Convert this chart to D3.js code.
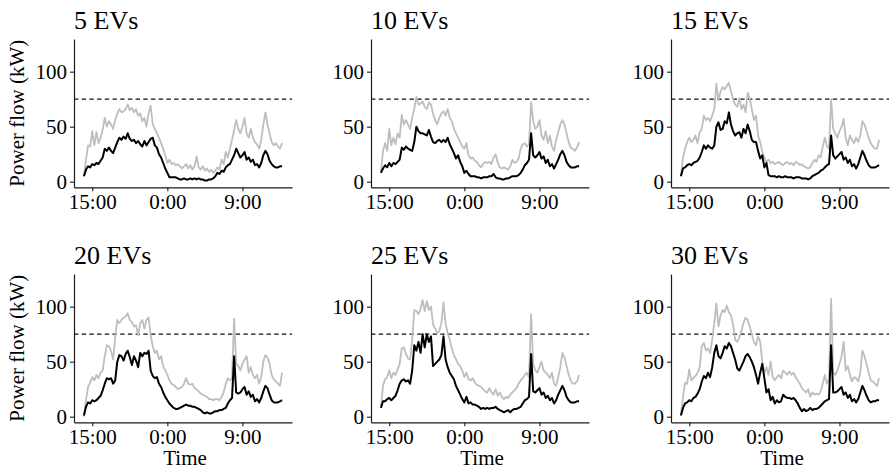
<!DOCTYPE html>
<html>
<head>
<meta charset="utf-8">
<script src="https://cdn.jsdelivr.net/npm/d3@7"></script>
<style>
  body { margin: 0; background: #fff; }
  svg text { font-family: "Liberation Serif", "Times New Roman", serif; fill: #000; }
</style>
</head>
<body>
<svg id="chart" width="890" height="471"></svg>
<script>
// ---- data ----
const panelTitles = ["5 EVs", "10 EVs", "15 EVs", "20 EVs", "25 EVs", "30 EVs"];
// readings every 15 minutes, from 14:00 to 13:45 the next day
const startTime = new Date(2021, 0, 1, 14, 0);
const stepMinutes = 15;
const yTicks = [0, 50, 100];
const xTickTimes = [new Date(2021, 0, 1, 15, 0), new Date(2021, 0, 2, 0, 0), new Date(2021, 0, 2, 9, 0)];
const xTickLabels = ["15:00", "0:00", "9:00"];
const powerLimit = 75;

const grey5 = [5,20,33,32,46,33,45,35,40,47, 58,50,55,52,48,56,62,66,63,64, 66,70,65,67,63,66,60,62,55,58,
  50,62,69,52,48,44,40,35,30,24, 17,20,16,17,15,16,14,12,14,16, 12,15,11,14,23,13,11,14,10,12,
  9,11,8,10,13,11,20,16,27,22, 30,38,47,56,48,44,50,58,44,40, 48,40,36,34,30,38,52,63,52,44, 36,33,35,32,30,35];
const black5 = [5,11,14,13,16,15,17,16,19,22, 30,28,31,28,26,31,36,40,38,41, 39,44,39,37,38,35,37,34,32,37,
  33,36,39,40,33,31,25,22,17,12, 8,4,4,4,4,3,2,2,3,2, 2,3,2,3,2,3,2,2,1,1,
  2,2,3,5,8,7,10,9,13,15, 16,20,24,30,26,22,24,27,20,22, 18,20,15,16,13,17,24,28,25,19, 16,14,13,13,14,14];

const grey10 = [8,28,35,28,48,33,40,34,44,40, 61,52,56,52,48,58,66,77,70,71, 73,68,66,72,70,62,56,52,58,62,
  64,60,66,58,55,48,44,40,36,32, 30,35,24,21,22,19,18,15,13,16, 18,17,18,16,22,25,17,13,12,13,
  12,11,14,20,17,18,21,30,34,35, 32,34,72,55,48,50,56,42,38,46, 35,42,32,28,38,45,52,56,52,44, 36,31,30,28,31,36];
const black10 = [8,12,15,13,17,14,17,16,18,20, 31,29,32,30,29,28,36,50,46,44, 44,43,42,47,41,36,35,37,38,36,
  38,36,40,34,30,26,21,24,18,14, 8,10,7,5,5,5,4,4,3,4, 4,4,5,5,7,4,3,3,2,2,
  3,3,4,5,5,5,6,8,11,15, 17,20,44,24,22,24,27,21,23,17, 20,14,16,12,16,20,25,28,24,18, 15,13,13,13,14,14];

const grey15 = [5,22,30,36,40,36,38,42,35,45, 48,60,56,58,55,60,66,89,74,82, 86,84,87,90,82,75,70,68,76,66,
  70,63,81,76,66,56,60,42,36,27, 22,18,20,17,18,16,17,18,16,15, 17,18,16,17,15,18,17,15,16,14,
  13,12,13,17,20,18,24,22,32,40, 32,30,75,48,44,40,46,50,57,40, 33,42,38,35,40,36,42,55,52,46, 40,35,32,30,30,38];
const black15 = [5,12,13,15,16,15,17,18,19,22, 27,33,30,33,31,30,33,50,54,47, 48,55,53,63,52,46,42,44,45,40,
  48,44,52,46,38,36,36,28,21,24, 13,17,6,5,5,5,4,5,4,4, 5,4,4,4,3,4,4,4,3,3,
  3,2,3,5,6,7,8,10,11,13, 15,16,42,24,21,23,25,27,20,22, 17,20,14,16,12,16,22,28,24,19, 15,13,13,13,14,15];

const grey20 = [0,15,27,31,36,33,38,35,40,42, 55,65,64,60,52,72,88,85,88,90, 91,94,88,86,82,83,74,85,88,80,
  88,90,74,64,58,60,52,55,46,42, 38,33,30,29,27,25,26,27,30,35, 30,29,30,26,25,23,21,20,19,18,
  16,16,15,16,16,15,18,22,30,35, 33,35,89,48,46,42,48,52,55,40, 45,38,35,38,30,36,50,56,54,48, 38,34,32,30,28,40];
const black20 = [1,9,13,12,15,14,15,17,19,24, 30,35,34,35,30,33,50,56,55,51, 57,60,54,47,55,51,45,58,55,58,
  57,60,42,37,35,36,30,27,22,18, 15,12,10,8,7,7,8,9,10,11, 10,10,9,9,8,7,6,4,3,4,
  3,3,4,5,5,6,6,7,8,12, 15,17,55,22,21,22,25,27,20,23, 18,20,14,16,13,17,23,28,26,20, 15,13,13,13,14,15];

const grey25 = [8,28,34,36,42,35,40,38,43,48, 62,63,57,53,52,70,97,96,93,98, 106,96,105,97,100,84,80,76,78,85,
  104,85,76,70,62,56,52,48,46,42, 36,40,34,33,35,31,29,28,27,25, 23,22,26,22,20,25,19,22,18,16,
  18,17,20,22,24,26,30,33,35,38, 40,36,93,48,42,40,45,50,42,40, 38,35,40,30,28,36,45,58,54,46, 38,33,30,30,32,38];
const black25 = [8,14,14,16,17,15,17,19,24,30, 33,34,32,33,30,42,65,60,68,58, 75,63,75,68,73,46,48,50,52,56,
  73,52,45,40,37,34,28,24,20,16, 13,18,12,13,11,11,10,9,7,8, 7,8,7,8,8,9,7,6,5,4,
  5,6,4,6,7,7,8,9,12,15, 16,18,57,23,22,24,26,20,22,17, 19,15,17,12,15,20,24,28,24,18, 15,13,13,13,14,14];

const grey30 = [2,18,31,30,43,33,35,37,40,45, 64,67,60,62,58,70,85,103,82,92, 97,95,101,95,92,84,70,68,72,78,
  85,90,88,82,75,68,65,73,68,50, 40,45,38,50,36,33,36,38,35,42, 40,38,41,38,40,36,33,30,26,24,
  22,25,18,22,20,21,20,23,30,38, 30,34,107,40,38,42,48,55,68,42, 46,38,32,36,35,32,40,60,55,48, 40,33,32,30,28,35];
const black30 = [1,8,12,13,15,14,17,18,21,25, 32,37,35,40,36,45,58,65,55,53, 58,64,62,67,64,58,52,44,42,46,
  50,55,57,54,50,45,38,30,40,48, 35,22,25,15,18,12,15,13,14,20, 18,17,17,16,17,15,12,8,5,7,
  5,6,8,6,7,7,8,10,12,14, 15,16,65,22,22,23,25,27,20,22, 17,20,14,16,13,16,22,28,24,19, 15,13,14,14,15,15];

const greySeries = [grey5, grey10, grey15, grey20, grey25, grey30];
const blackSeries = [black5, black10, black15, black20, black25, black30];

// ---- layout ----
const colLeft = [74, 371, 671];
const rowTop = [39, 274];
const panelW = 218;
const panelH = 148.3;
const yDomain = [-5.1, 129.7];
const fontStack = '"Liberation Serif", "Times New Roman", serif';

const times = grey5.map((_, i) => d3.timeMinute.offset(startTime, i * stepMinutes));
const tMin = times[0], tMax = times[times.length - 1];
const pad = (tMax - tMin) * 0.05;

const x = d3.scaleTime()
  .domain([new Date(+tMin - pad), new Date(+tMax + pad)])
  .range([0, panelW]);
const y = d3.scaleLinear().domain(yDomain).range([panelH, 0]);

const line = d3.line()
  .x((d, i) => x(times[i]))
  .y(d => y(d))
  .curve(d3.curveLinear);

const svg = d3.select("#chart");

panelTitles.forEach((title, p) => {
  const col = p % 3, row = Math.floor(p / 3);
  const g = svg.append("g")
    .attr("transform", `translate(${colLeft[col]},${rowTop[row]})`);

  // power limit
  g.append("line")
    .attr("x1", 0).attr("x2", panelW)
    .attr("y1", y(powerLimit)).attr("y2", y(powerLimit))
    .attr("stroke", "#111").attr("stroke-width", 1.2)
    .attr("stroke-dasharray", "4.4,3.3");

  g.append("path").datum(greySeries[p])
    .attr("d", line).attr("fill", "none")
    .attr("stroke", "#bebebe").attr("stroke-width", 1.8)
    .attr("stroke-linejoin", "round");

  g.append("path").datum(blackSeries[p])
    .attr("d", line).attr("fill", "none")
    .attr("stroke", "#000").attr("stroke-width", 2)
    .attr("stroke-linejoin", "round");

  // axes
  const gx = g.append("g")
    .attr("transform", `translate(0,${panelH})`)
    .call(d3.axisBottom(x).tickValues(xTickTimes)
      .tickFormat((d, i) => xTickLabels[i])
      .tickSize(4).tickSizeOuter(0).tickPadding(3));
  const gy = g.append("g")
    .call(d3.axisLeft(y).tickValues(yTicks)
      .tickSize(4).tickSizeOuter(0).tickPadding(3));

  [gx, gy].forEach(a => {
    a.attr("font-family", null).attr("font-size", null);
    a.select(".domain").attr("stroke", "#1a1a1a").attr("stroke-width", 1.2);
    a.selectAll(".tick line").attr("stroke", "#1a1a1a").attr("stroke-width", 1.1);
    a.selectAll(".tick text")
      .style("font-family", fontStack).style("font-size", "21px").attr("fill", "#111");
  });

  // panel title
  g.append("text")
    .attr("x", 0).attr("y", -10)
    .style("font-size", "26px")
    .text(title);

  if (col === 0) {
    svg.append("text")
      .attr("transform", `translate(23.5,${rowTop[row] + panelH / 2}) rotate(-90)`)
      .attr("text-anchor", "middle")
      .style("font-size", "21px")
      .text("Power flow (kW)");
  }
  if (row === 1) {
    svg.append("text")
      .attr("x", colLeft[col] + 111).attr("y", 465)
      .attr("text-anchor", "middle")
      .style("font-size", "21px")
      .text("Time");
  }
});
</script>
</body>
</html>
